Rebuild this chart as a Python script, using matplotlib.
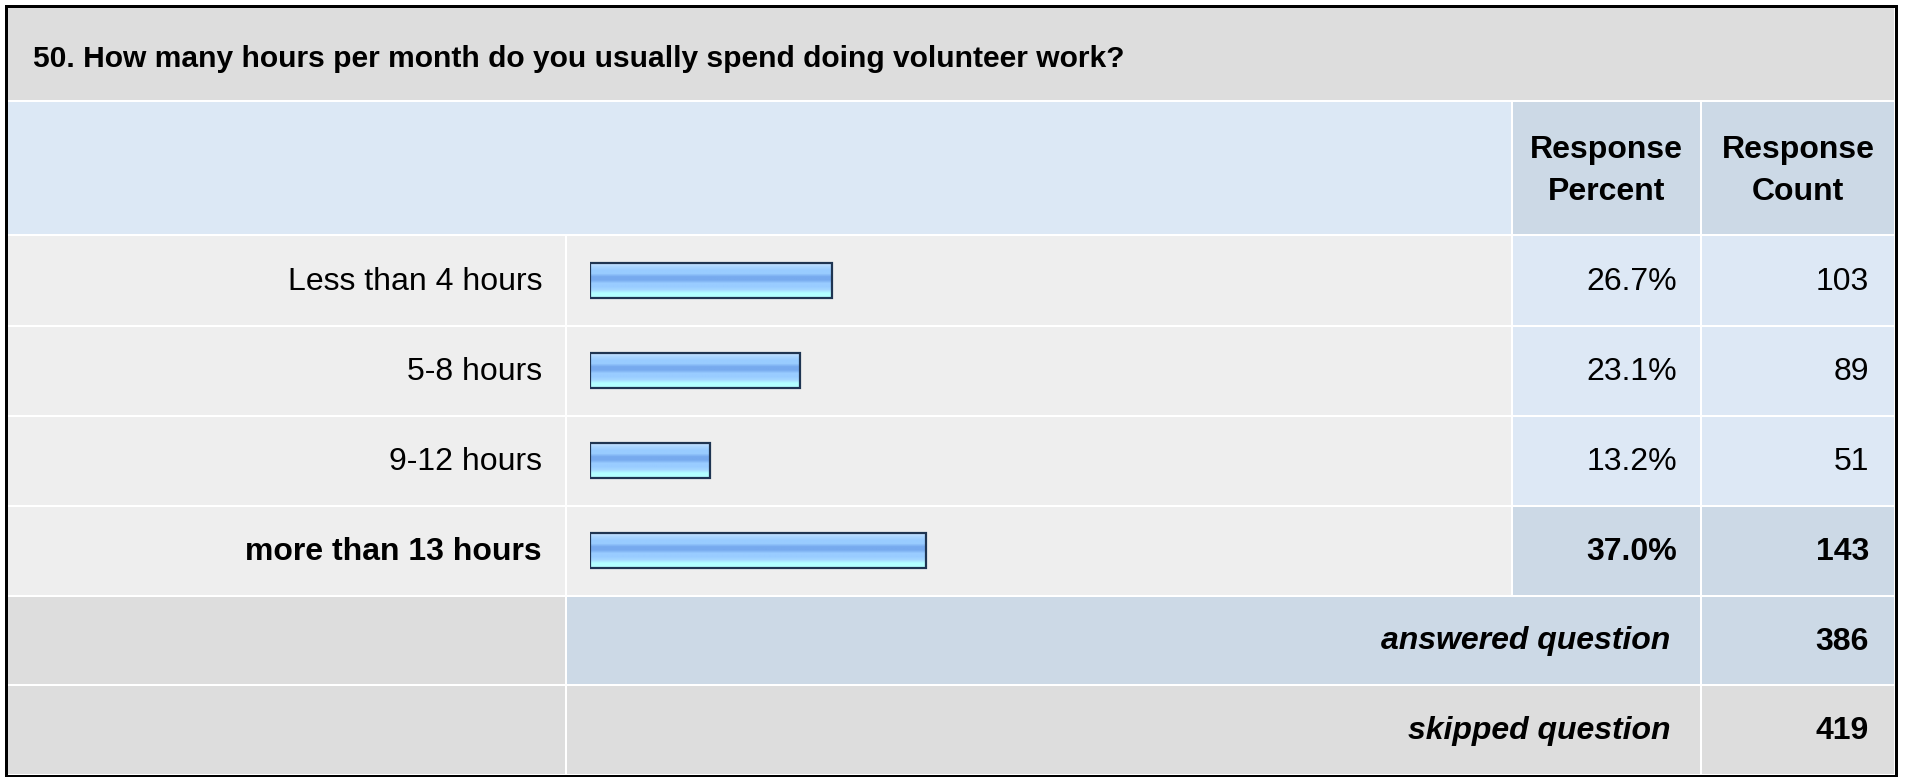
import numpy as np
import matplotlib
matplotlib.use("Agg")
import matplotlib.pyplot as plt
from matplotlib.patches import Rectangle
from matplotlib.colors import to_rgb

plt.rcParams['font.family'] = ['Liberation Sans', 'DejaVu Sans']

# survey data
question = "50. How many hours per month do you usually spend doing volunteer work?"
answers = ["Less than 4 hours", "5-8 hours", "9-12 hours", "more than 13 hours"]
percents = [26.7, 23.1, 13.2, 37.0]
counts = [103, 89, 51, 143]
answered = 386
skipped = 419

W, H = 1907, 777
fig = plt.figure(figsize=(W / 100, H / 100), dpi=100)
ax = fig.add_axes([0, 0, 1, 1])
ax.set_xlim(0, W)
ax.set_ylim(H, 0)
ax.axis("off")

PX = 0.72  # points per pixel at dpi 100
FS = 32 * PX

# column edges and row edges in pixels
cx = [7, 566, 1512, 1701, 1895]
ry = [7, 101, 235, 326, 416, 506, 596, 685, 775]

gray = "#dddddd"
light = "#eeeeee"
blue = "#dde8f5"
blue2 = "#ccd9e6"


def cell(x0, x1, y0, y1, color):
    ax.add_patch(Rectangle((x0, y0), x1 - x0, y1 - y0, facecolor=color,
                           edgecolor="white", lw=2 * PX))


# title row
cell(cx[0], cx[4], ry[0], ry[1], gray)
ax.text(33, 59, question, fontsize=30 * PX, fontweight="bold",
        ha="left", va="center")

# header row
cell(cx[0], cx[2], ry[1], ry[2], "#dce8f5")
cell(cx[2], cx[3], ry[1], ry[2], blue2)
cell(cx[3], cx[4], ry[1], ry[2], blue2)
for xc, word in [((cx[2] + cx[3]) / 2, "Percent"), ((cx[3] + cx[4]) / 2, "Count")]:
    ax.text(xc, 150, "Response", fontsize=FS, fontweight="bold", ha="center", va="center")
    ax.text(xc, 192, word, fontsize=FS, fontweight="bold", ha="center", va="center")

# answer rows
top = int(np.argmax(percents))
for i, (lab, p, c) in enumerate(zip(answers, percents, counts)):
    y0, y1 = ry[2 + i], ry[3 + i]
    yc = (y0 + y1) / 2 + 1
    hi = i == top
    cell(cx[0], cx[1], y0, y1, light)
    cell(cx[1], cx[2], y0, y1, light)
    cell(cx[2], cx[3], y0, y1, blue2 if hi else blue)
    cell(cx[3], cx[4], y0, y1, blue2 if hi else blue)
    w = "bold" if hi else "normal"
    ax.text(542, yc, lab, fontsize=FS, fontweight=w, ha="right", va="center")
    ax.text(1677, yc, f"{p:.1f}%", fontsize=FS, fontweight=w, ha="right", va="center")
    ax.text(1869, yc, str(c), fontsize=FS, fontweight=w, ha="right", va="center")

# summary rows
cell(cx[0], cx[1], ry[6], ry[7], gray)
cell(cx[1], cx[3], ry[6], ry[7], blue2)
cell(cx[3], cx[4], ry[6], ry[7], blue2)
cell(cx[0], cx[1], ry[7], ry[8], gray)
cell(cx[1], cx[3], ry[7], ry[8], gray)
cell(cx[3], cx[4], ry[7], ry[8], gray)
for k, (lab, val) in enumerate([("answered question", answered), ("skipped question", skipped)]):
    yc = (ry[6 + k] + ry[7 + k]) / 2 + 1
    ax.text(1670, yc, lab, fontsize=FS, fontweight="bold", fontstyle="italic",
            ha="right", va="center")
    ax.text(1869, yc, str(val), fontsize=FS, fontweight="bold", ha="right", va="center")

# outer border
ax.add_patch(Rectangle((cx[0] - 1, ry[0] - 1), cx[4] - cx[0] + 2, ry[8] - ry[0] + 2,
                       facecolor="none", edgecolor="black", lw=3 * PX))

# bar axes: 0-100 % over 907 px starting at x=590
bx0, bw = 590, 907
bax = fig.add_axes([bx0 / W, (H - ry[6]) / H, bw / W, (ry[6] - ry[2]) / H])
bax.set_xlim(0, 100)
bax.set_ylim(len(answers) - 0.5, -0.5)
bax.axis("off")

stops = ["#c6e2ff", "#a9d5ff", "#99ccff", "#99ccff", "#77aaee", "#77aaee",
         "#99ccff", "#99ccff", "#a6d8ff", "#b3ffff", "#b3ffff"]
grad = np.array([to_rgb(s) for s in stops])[:, None, :]
bh = 35 / 90.0
ypos = np.arange(len(answers))
bars = bax.barh(ypos, percents, height=bh, facecolor="none",
                edgecolor="#1f3552", lw=2.2 * PX, zorder=3)
for b, yp, p in zip(bars, ypos, percents):
    im = bax.imshow(grad, extent=(0, p, yp + bh / 2, yp - bh / 2), aspect="auto",
                    interpolation="bilinear", zorder=2)
    im.set_clip_path(b)

fig.savefig("out.png", dpi=100)
